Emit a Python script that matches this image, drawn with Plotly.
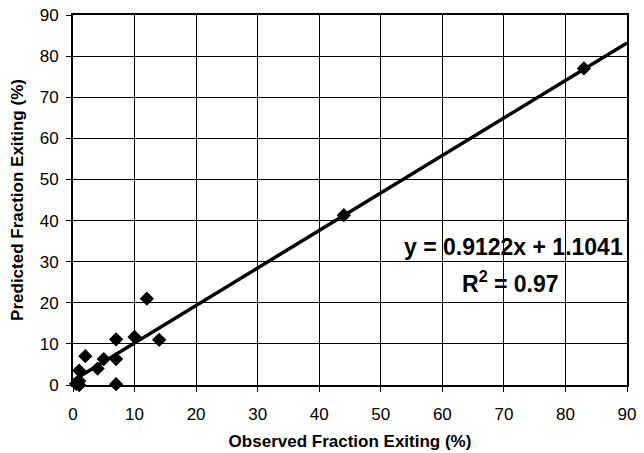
import plotly.graph_objects as go

observed = [12, 7, 10, 14, 2, 5, 7, 4, 1, 1, 0.5, 1, 7, 44, 83]
predicted = [21, 11.1, 11.7, 11, 7, 6.3, 6.3, 4, 3.5, 1, 0.3, 0, 0.2, 41.3, 77]
slope, intercept = 0.9122, 1.1041
line_x = [0, 90]
line_y = [slope * v + intercept for v in line_x]
ticks = list(range(0, 91, 10))

font = "Liberation Sans, Arial, sans-serif"
fig = go.Figure()
fig.add_trace(go.Scatter(x=line_x, y=line_y, mode="lines",
                         line=dict(color="black", width=3.5), showlegend=False))
fig.add_trace(go.Scatter(x=observed, y=predicted, mode="markers",
                         marker=dict(symbol="diamond", size=11, color="black"),
                         showlegend=False, cliponaxis=False))
fig.add_annotation(x=89.7, y=33.5, xref="x", yref="y", text="<b>y = 0.9122x + 1.1041</b>",
                   showarrow=False, xanchor="right", yanchor="middle",
                   font=dict(family=font, size=23, color="black"))
fig.add_annotation(x=71, y=25, xref="x", yref="y", text="<b>R<sup>2</sup> = 0.97</b>",
                   showarrow=False, xanchor="center", yanchor="middle",
                   font=dict(family=font, size=23, color="black"))
axis_common = dict(range=[0, 90], tickvals=ticks, showgrid=True, gridcolor="black",
                   gridwidth=1, showline=True, linecolor="black", linewidth=2,
                   mirror=True, ticks="outside", ticklen=5, tickcolor="black",
                   zeroline=False, automargin=False,
                   tickfont=dict(family=font, size=17, color="black"))
fig.update_xaxes(**axis_common, ticklabelstandoff=8,
                 title=dict(text="<b>Observed Fraction Exiting (%)</b>",
                            font=dict(family=font, size=17, color="black"), standoff=12))
fig.update_yaxes(**axis_common, ticklabelstandoff=4,
                 title=dict(text="<b>Predicted Fraction Exiting (%)</b>",
                            font=dict(family=font, size=17, color="black"), standoff=12))
fig.update_layout(width=644, height=453, margin=dict(l=73, r=17, t=15, b=68),
                  plot_bgcolor="white", paper_bgcolor="white")
fig.write_html("out.html")
